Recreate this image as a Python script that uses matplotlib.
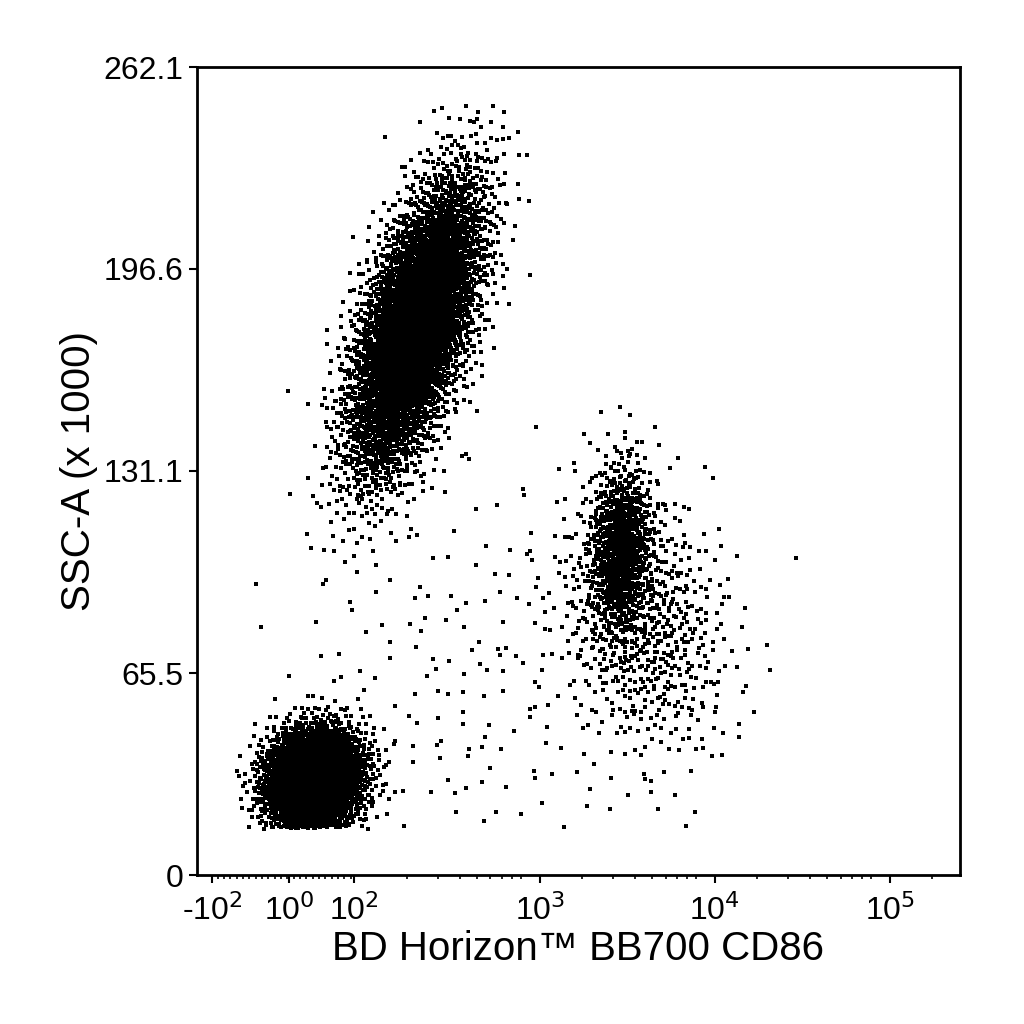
import numpy as np
import matplotlib
matplotlib.use("Agg")
import matplotlib.pyplot as plt

plt.rcParams['font.family'] = ['Liberation Sans', 'DejaVu Sans']

# axis is drawn in display units (decade-like channels) of a biexponential scale
tick_pos = [0.09, 0.53, 0.90, 1.96, 2.96, 3.96]
tick_labels = ["-10$^{2}$", "10$^{0}$", "10$^{2}$", "10$^{3}$", "10$^{4}$", "10$^{5}$"]
y_ticks = [0, 65.5, 131.1, 196.6, 262.1]
y_labels = ["0", "65.5", "131.1", "196.6", "262.1"]

# populations: centre u, centre y (x1000), sd along u, sd along y, correlation, events
pop_names = ["lymphocytes", "granulocytes", "monocytes", "monocyte halo", "debris"]
pop_u = [0.67, 1.25, 2.42, 2.55, 1.55]
pop_y = [31.0, 178.0, 106.0, 82.0, 60.0]
pop_su = [0.14, 0.19, 0.09, 0.25, 0.55]
pop_sy = [8.5, 24.0, 14.0, 22.0, 40.0]
pop_rho = [0.1, 0.6, 0.1, -0.2, 0.0]
pop_n = [3200, 5000, 800, 650, 200]


def halton(n, base, skip):
    out = np.empty(n)
    for k in range(n):
        i = k + skip + 1
        f, r = 1.0, 0.0
        while i > 0:
            f /= base
            r += f * (i % base)
            i //= base
        out[k] = r
    return out


us, ys = [], []
skip = 0
for u0, y0, su, sy, rho, n in zip(pop_u, pop_y, pop_su, pop_sy, pop_rho, pop_n):
    a = np.clip(halton(n, 2, skip), 1e-6, 1)
    b = halton(n, 3, skip)
    skip += n
    rad = np.sqrt(-2 * np.log(a))
    z1 = rad * np.cos(2 * np.pi * b)
    z2 = rad * np.sin(2 * np.pi * b)
    us.append(u0 + su * z1)
    ys.append(y0 + sy * (rho * z1 + np.sqrt(1 - rho ** 2) * z2))
us = np.concatenate(us)
ys = np.concatenate(ys)
keep = (ys > 15) & (ys < 250) & (us > 0.2)
us, ys = us[keep], ys[keep]

fig = plt.figure(figsize=(10.24, 10.24), dpi=100)
ax = fig.add_axes([0.192, 0.1455, 0.7455, 0.789])
ax.scatter(us, ys, s=6, marker="s", c="black", linewidths=0)
ax.set_xlim(0, 4.36)
ax.set_ylim(0, 262.1)

ax.set_xticks(tick_pos)
ax.set_xticklabels(tick_labels, fontsize=23)
minor = [tick_pos[2] + (dd - 2) * 1.0 + np.log10(m) for dd in range(2, 6) for m in range(2, 10)]
minor = [p for p in minor if p < 4.36]
minor += list(np.linspace(0.12, 0.88, 22))
ax.set_xticks(minor, minor=True)
ax.tick_params(axis="x", which="major", length=6, width=1.5, direction="out", pad=8)
ax.tick_params(axis="x", which="minor", length=3, width=1.2, direction="out")

ax.set_yticks(y_ticks)
ax.set_yticklabels(y_labels, fontsize=23)
ax.tick_params(axis="y", length=6, width=1.5)

for s in ax.spines.values():
    s.set_linewidth(2)

ax.set_xlabel("BD Horizon\u2122 BB700 CD86", fontsize=29, labelpad=2)
ax.set_ylabel("SSC-A (x 1000)", fontsize=29)

fig.savefig("out.png", dpi=100)
